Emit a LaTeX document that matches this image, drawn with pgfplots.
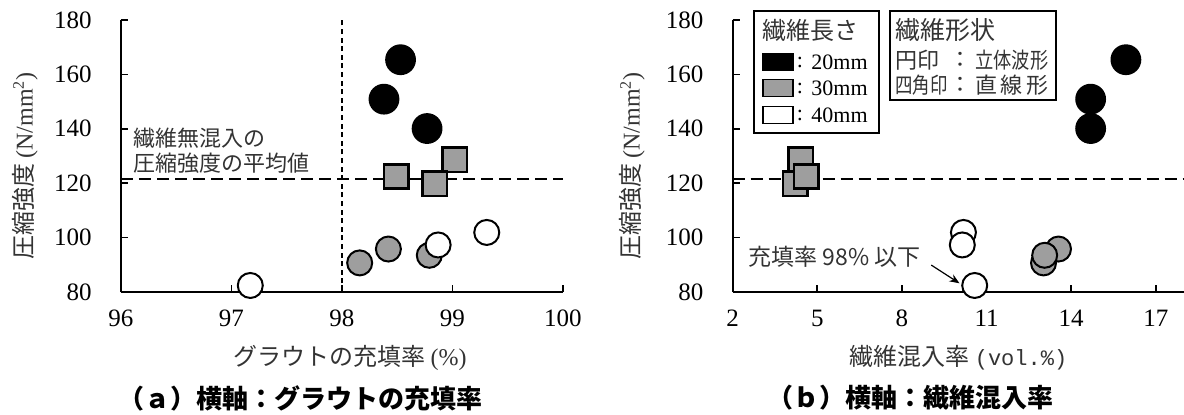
\documentclass[border=0pt]{standalone}
\usepackage{fontspec}
\setmainfont{Liberation Serif}
\newfontfamily\jp{Noto Sans CJK JP}
\newfontfamily\mono{Liberation Mono}
\usepackage{graphicx}
\usepackage{pgfplots}
\pgfplotsset{compat=1.18}
\usetikzlibrary{arrows.meta}

\definecolor{fgray}{RGB}{158,158,158}
\colorlet{lbl}{black!80}

\pgfplotsset{
  panel/.style={
    scale only axis, height=136pt, anchor=south west,
    ymin=80, ymax=180, ytick={80,100,...,180},
    axis x line=bottom, axis y line=left,
    axis line style={-, line width=0.85pt},
    tick align=inside, major tick length=3.5pt,
    tick style={line width=0.85pt, black},
    clip=false,
    /pgf/number format/assume math mode=true,
    ticklabel style={font=\fontsize{12.5}{14}\selectfont, inner sep=0pt},
    xticklabel style={anchor=center, yshift=-13pt},
    yticklabel style={anchor=east, xshift=-14.5pt},
    label style={font=\jp\fontsize{12}{14}\selectfont, text=lbl},
  },
  blackc/.style={only marks, mark=*, mark size=7.2pt, mark options={fill=black, draw=black, line width=1pt}},
  grayc/.style={only marks, mark=*, mark size=6.25pt, mark options={fill=fgray, draw=black, line width=1pt}},
  whitec/.style={only marks, mark=*, mark size=6.25pt, mark options={fill=white, draw=black, line width=1pt}},
  grays/.style={only marks, mark=square*, mark size=6.1pt, mark options={fill=fgray, draw=black, line width=1.3pt}},
  avg/.style={no marks, black, line width=0.7pt, dash pattern=on 6pt off 3pt},
}

\begin{document}
\begin{tikzpicture}
\useasboundingbox (0,0) rectangle (592pt,207pt);

% (a) filling ratio
\begin{axis}[panel, at={(60.5pt,61pt)}, width=221pt,
  xmin=96, xmax=100, xtick={96,97,98,99,100},
  xlabel={グラウトの充填率 {\rmfamily(\%)}},
  ylabel={圧縮強度 {\rmfamily(N/mm\textsuperscript{2})}},
  xlabel style={at={(axis description cs:0.518,-0.243)}, anchor=center},
  ylabel style={at={(axis description cs:-0.217,0.463)}, anchor=center},
  ]
\addplot[avg] coordinates {(96,121.6) (100,121.6)};
\addplot[no marks, black, line width=0.7pt, dash pattern=on 2.5pt off 1.8pt] coordinates {(98,80) (98,180)};
\addplot[blackc] coordinates {(98.53,165.4) (98.38,150.9) (98.77,140.1)};
\addplot[grays] coordinates {(99.02,128.6) (98.49,122.5) (98.84,119.8)};
\addplot[grayc] coordinates {(98.16,90.7) (98.42,95.8) (98.79,93.5)};
\addplot[whitec] coordinates {(97.17,82.4) (98.87,97.3) (99.31,101.9)};
\node[anchor=west, align=left, inner sep=0pt, text=lbl,
  font=\jp\fontsize{11}{12.5}\selectfont] at (axis cs:96.11,132) {繊維無混入の\\圧縮強度の平均値};
\node[font=\jp\bfseries\fontsize{13}{15}\selectfont] at (axis description cs:0.405,-0.39) {（ａ）横軸：グラウトの充填率};
\end{axis}

% (b) fibre volume ratio
\begin{axis}[panel, at={(366.35pt,61pt)}, width=225.65pt,
  xmin=2, xmax=18, xtick={2,5,8,11,14,17},
  xlabel={繊維混入率 {\mono\fontsize{11}{13}\selectfont(vol.\%)}},
  ylabel={圧縮強度 {\rmfamily(N/mm\textsuperscript{2})}},
  xlabel style={at={(axis description cs:0.5,-0.243)}, anchor=center},
  ylabel style={at={(axis description cs:-0.223,0.463)}, anchor=center},
  ]
\addplot[avg] coordinates {(2,121.6) (18,121.6)};
\addplot[blackc] coordinates {(15.94,165.4) (14.69,150.9) (14.69,140.1)};
\addplot[grays] coordinates {(4.41,128.6) (4.22,119.8) (4.61,122.5)};
\addplot[grayc] coordinates {(13.02,90.7) (13.55,95.8) (13.06,93.5)};
\addplot[whitec] coordinates {(10.18,101.9) (10.14,97.3) (10.58,82.4)};
\node[font=\jp\fontsize{11.5}{13}\selectfont, text=lbl] at (axis cs:5.61,92.9) {充填率 98\% 以下};
\draw[-{Stealth[length=5pt,width=4pt]}, line width=0.6pt] (axis cs:9.04,89.9) -- (axis cs:10.04,83.2);
\node[font=\jp\bfseries\fontsize{13}{15}\selectfont] at (axis description cs:0.395,-0.39) {（ｂ）横軸：繊維混入率};
\end{axis}

% legend: fibre length
\draw[line width=0.9pt] (377pt,140.5pt) rectangle (439.5pt,201.5pt);
\node[anchor=west, inner sep=0pt, text=lbl, font=\jp\fontsize{12}{14}\selectfont] at (381pt,192pt) {繊維長さ};
\draw[line width=0.8pt, fill=black] (381.5pt,171.75pt) rectangle (396.5pt,180.25pt);
\draw[line width=0.8pt, fill=fgray] (381.5pt,158.75pt) rectangle (396.5pt,167.25pt);
\draw[line width=0.8pt, fill=white] (381.5pt,145.25pt) rectangle (396.5pt,153.75pt);
\foreach \yy/\tx in {176/20mm, 163/30mm, 149.5/40mm}{
  \node[inner sep=0pt, font=\fontsize{11}{12}\selectfont] at (400pt,\yy pt) {:};
  \node[anchor=west, inner sep=0pt, font=\fontsize{11}{12}\selectfont] at (405.5pt,\yy pt) {\tx};
}

% legend: fibre shape
\draw[line width=0.9pt] (445pt,157pt) rectangle (528pt,201.5pt);
\node[anchor=west, inner sep=0pt, text=lbl, font=\jp\fontsize{12.5}{14}\selectfont] at (447.5pt,192pt) {繊維形状};
\node[anchor=west, inner sep=0pt, text=lbl, font=\jp\fontsize{11}{13}\selectfont] at (447.5pt,177pt) {円印};
\node[anchor=west, inner sep=0pt, text=lbl, font=\jp\fontsize{11}{13}\selectfont] at (447.5pt,164.5pt) {\scalebox{0.79}[1]{四角印}};
\node[inner sep=0pt, text=lbl, font=\jp\fontsize{11}{13}\selectfont] at (480pt,177pt) {：};
\node[inner sep=0pt, text=lbl, font=\jp\fontsize{11}{13}\selectfont] at (480pt,164.5pt) {：};
\node[anchor=west, inner sep=0pt, text=lbl, font=\jp\fontsize{11}{13}\selectfont] at (487.5pt,177pt) {\scalebox{0.83}[1]{立体波形}};
\node[anchor=west, inner sep=0pt, text=lbl, font=\jp\fontsize{11}{13}\selectfont] at (487.5pt,164.5pt) {\makebox[36.5pt][s]{直\hfill 線\hfill 形}};
\end{tikzpicture}
\end{document}
